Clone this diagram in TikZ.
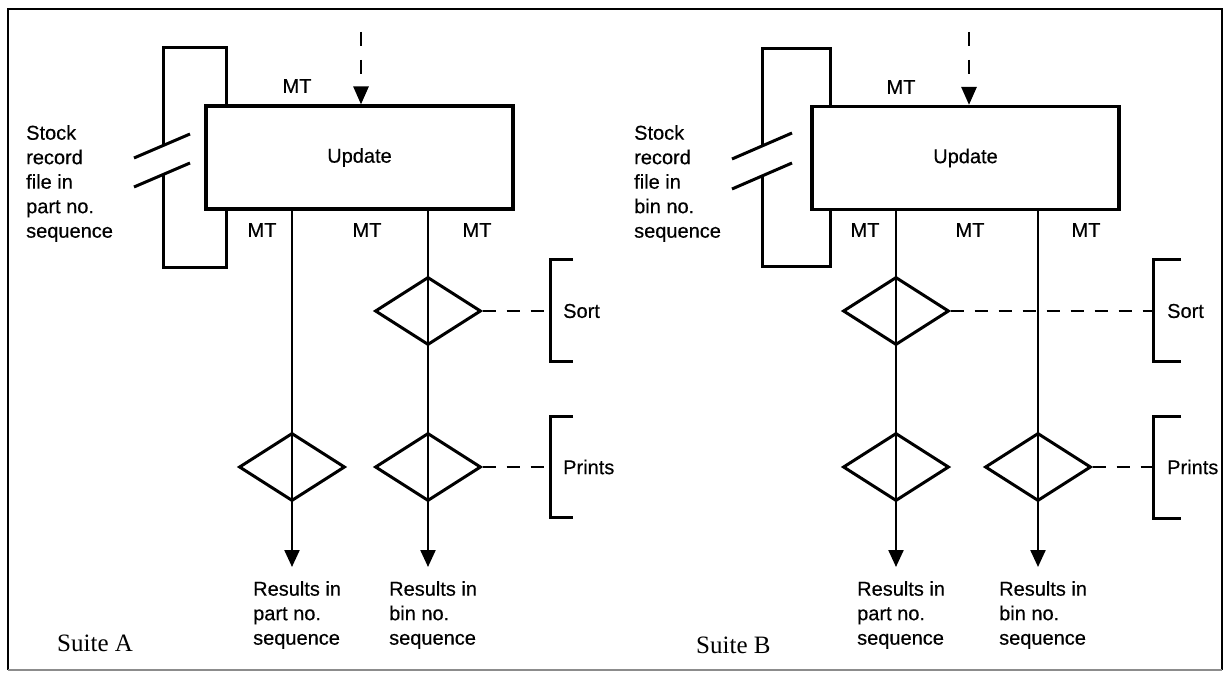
\documentclass[tikz,border=0pt]{standalone}
\usepackage{fontspec}
\setmainfont{Liberation Serif}
\setsansfont{Liberation Sans}
\newfontfamily\lblfont{Liberation Sans}[FakeBold=0.4]
\usepackage{tikz}
\usetikzlibrary{arrows.meta,positioning,shapes.geometric,calc}

\tikzset{
  lbl/.style={font=\lblfont\fontsize{20}{24.5}\selectfont, inner sep=0pt},
  suite/.style={font=\fontsize{25}{30}\selectfont, inner sep=0pt},
  procbox/.style={draw, fill=white, line width=3.2pt, minimum width=307pt,
    minimum height=103pt, inner sep=0pt, font=\lblfont\fontsize{20}{24.5}\selectfont},
  choice/.style={draw, diamond, line width=3pt, minimum width=106pt,
    minimum height=68pt, inner sep=0pt},
  flow/.style={line width=2.3pt},
  ctrl/.style={line width=2.8pt, dash pattern=on 14pt off 14pt},
  link/.style={line width=2.8pt, dash pattern=on 13pt off 11pt},
  brack/.style={line width=3pt},
  filerec/.style={line width=3pt},
  slash/.style={line width=3pt},
  frame/.style={line width=2.6pt},
  tip/.style={-{Triangle[length=17pt,width=15pt]}}
}

\begin{document}
\begin{tikzpicture}[x=1pt,y=-1pt]
  \useasboundingbox (0,0) rectangle (1227,679);
  % frame
  \draw[frame] (8,670) -- (8,9) -- (1222,9) -- (1222,670);
  \draw[frame, black!45] (8,670) -- (1222,670);

  % ---- Suite A ----
  \draw[filerec] (163,145.6) -- (163,48) -- (226,48) -- (226,268) -- (163,268) -- (163,174.6);
  \draw[slash] (134,158) -- (190,134);
  \draw[slash] (134,187) -- (190,163);
  \node[lbl, anchor=north west, align=left] (stockA) at (26,125)
    {Stock\\record\\file in\\part no.\\sequence};
  \node[procbox] (boxA) at (359.5,157.5) {Update};
  \node[lbl] (mtinA) at (297,86) {MT};
  \coordinate (feedA) at (361,32);
  \draw[ctrl, -{Triangle[length=18pt,width=15pt]}] (feedA) -- (feedA |- boxA.north);
  \coordinate (endA1) at (292,567);
  \coordinate (endA2) at (428,567);
  \draw[flow, tip] (boxA.south -| endA1) -- (endA1);
  \draw[flow, tip] (boxA.south -| endA2) -- (endA2);
  \node[lbl] (mtA1) at (262,230) {MT};
  \node[lbl] (mtA2) at (367,230) {MT};
  \node[lbl] (mtA3) at (477,230) {MT};
  \node[choice] (sortA) at (428,311) {};
  \node[choice] (printA1) at (292,467) {};
  \node[choice] (printA2) at (428,467) {};
  \coordinate (sortkA) at (550,311);
  \coordinate (printkA) at (550,467);
  \draw[link] (sortA.east) -- (sortkA);
  \draw[link] (printA2.east) -- (printkA);
  \draw[brack] ($(sortkA)+(23,-51)$) -- ++(-23,0) -- ++(0,101) -- ++(23,0);
  \draw[brack] ($(printkA)+(23,-51)$) -- ++(-23,0) -- ++(0,101) -- ++(23,0);
  \node[lbl, anchor=west] (sortlA) at (563,311) {Sort};
  \node[lbl, anchor=west] (printlA) at (563,467) {Prints};
  \node[lbl, anchor=north west, align=left] (resA1) at (253,581)
    {Results in\\part no.\\sequence};
  \node[lbl, anchor=north west, align=left] (resA2) at (389,581)
    {Results in\\bin no.\\sequence};
  \node[suite, anchor=west] (suiteA) at (57,643) {Suite A};

  % ---- Suite B ----
  \draw[filerec] (762,146) -- (762,49) -- (830,49) -- (830,267) -- (762,267) -- (762,176);
  \draw[slash] (732,159) -- (792,133);
  \draw[slash] (732,189) -- (792,163);
  \node[lbl, anchor=north west, align=left] (stockB) at (634,125)
    {Stock\\record\\file in\\bin no.\\sequence};
  \node[procbox] (boxB) at (965.5,158) {Update};
  \node[lbl] (mtinB) at (901,87) {MT};
  \coordinate (feedB) at (969,32);
  \draw[ctrl, -{Triangle[length=18pt,width=15pt]}] (feedB) -- (feedB |- boxB.north);
  \coordinate (endB1) at (896,567);
  \coordinate (endB2) at (1038,567);
  \draw[flow, tip] (boxB.south -| endB1) -- (endB1);
  \draw[flow, tip] (boxB.south -| endB2) -- (endB2);
  \node[lbl] (mtB1) at (865,230) {MT};
  \node[lbl] (mtB2) at (970,230) {MT};
  \node[lbl] (mtB3) at (1086,230) {MT};
  \node[choice] (sortB) at (896,311) {};
  \node[choice] (printB1) at (896,467) {};
  \node[choice] (printB2) at (1038,467) {};
  \coordinate (sortkB) at (1153,311);
  \coordinate (printkB) at (1153,467);
  \draw[link] (sortB.east) -- (sortkB);
  \draw[link] (printB2.east) -- (printkB);
  \draw[brack] ($(sortkB)+(28,-51)$) -- ++(-28,0) -- ++(0,101) -- ++(28,0);
  \draw[brack] ($(printkB)+(28,-51)$) -- ++(-28,0) -- ++(0,102) -- ++(28,0);
  \node[lbl, anchor=west] (sortlB) at (1167,311) {Sort};
  \node[lbl, anchor=west] (printlB) at (1167,467) {Prints};
  \node[lbl, anchor=north west, align=left] (resB1) at (857,581)
    {Results in\\part no.\\sequence};
  \node[lbl, anchor=north west, align=left] (resB2) at (999,581)
    {Results in\\bin no.\\sequence};
  \node[suite, anchor=west] (suiteB) at (696,645) {Suite B};
\end{tikzpicture}
\end{document}
